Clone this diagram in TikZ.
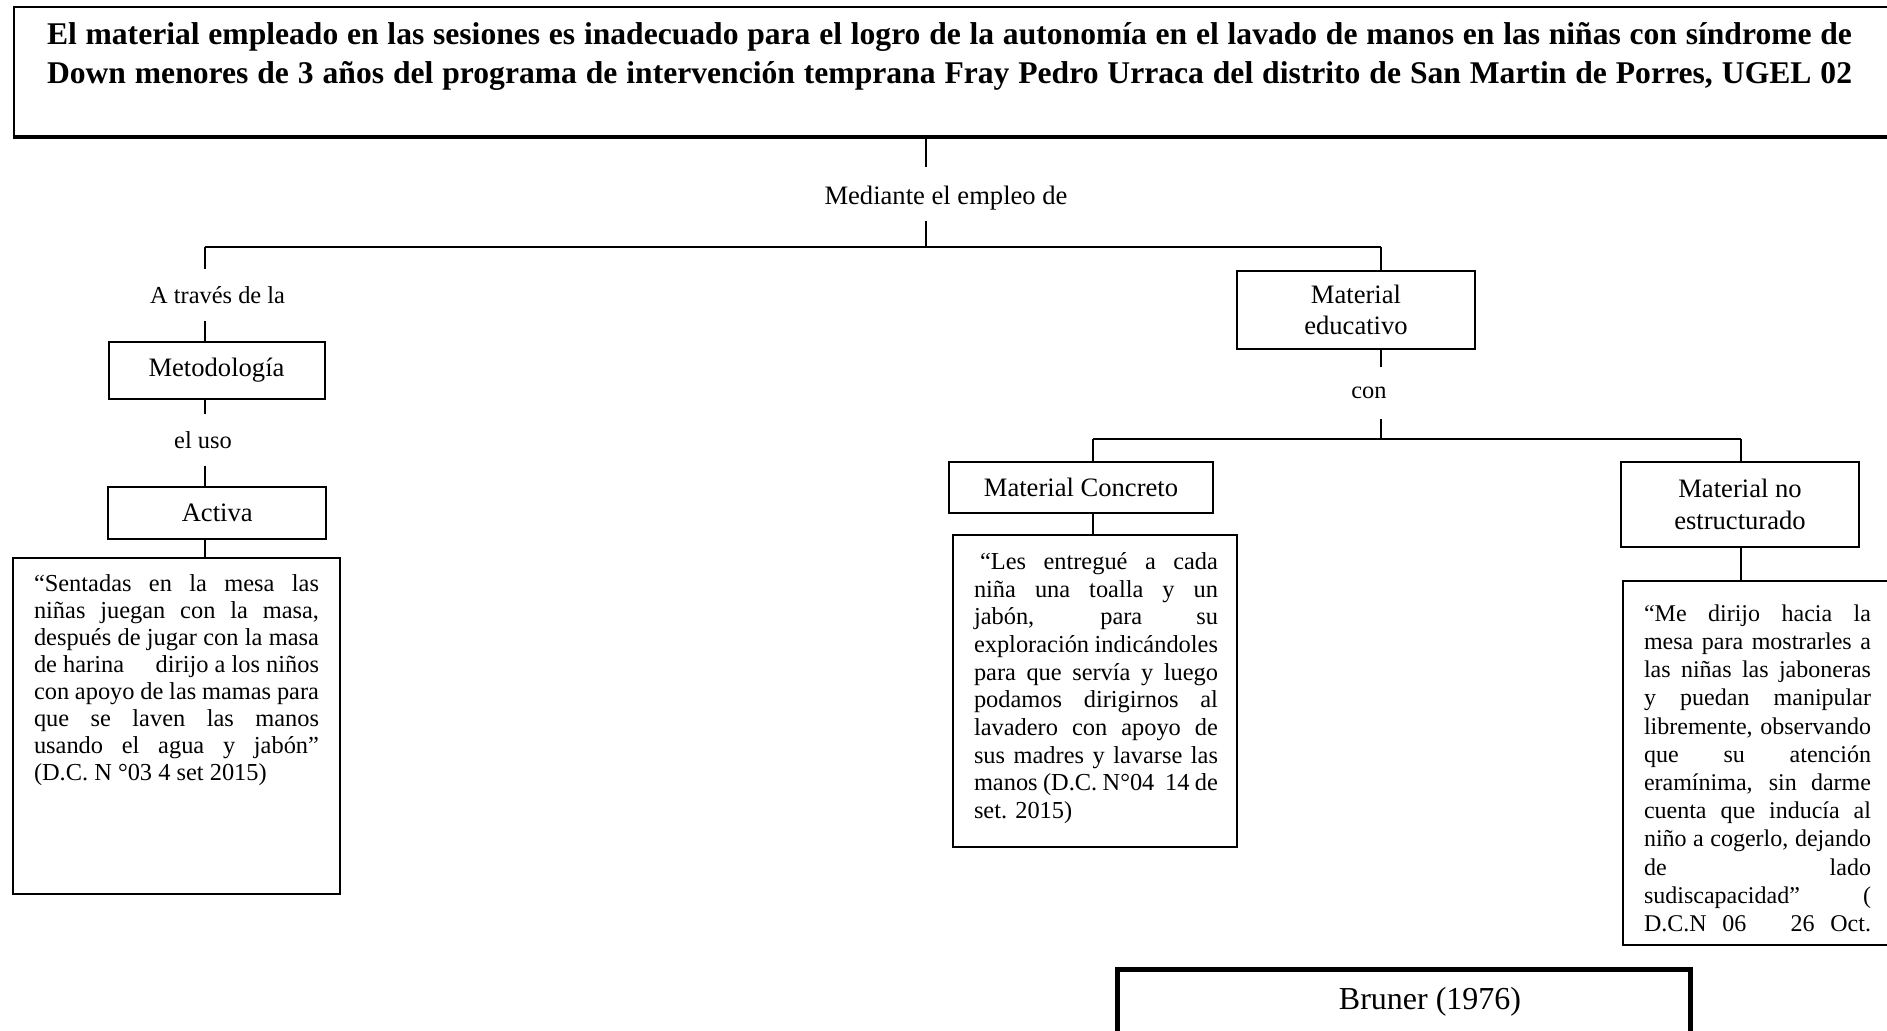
\documentclass[tikz,border=0pt]{standalone}
\usepackage{fontspec}
\setmainfont{Liberation Serif}
\usetikzlibrary{positioning}

\begin{document}
\begin{tikzpicture}[x=1pt,y=-1pt,line width=1pt,
  box/.style={draw,line width=1pt,inner sep=0pt,align=center,font=\fontsize{13.3}{15.8}\selectfont},
  lbl/.style={inner sep=0pt,minimum height=25pt,font=\fontsize{12.2}{14}\selectfont},
  frame/.style={draw,line width=1pt,inner sep=0pt},
  cita/.style={inner sep=0pt,anchor=north west,align=justify,font=\fontsize{12.2}{13.5}\selectfont}]
\useasboundingbox (0,0) rectangle (943.5,515.5);
\clip (0,0) rectangle (943.5,515.5);
\node[frame,line width=1.2pt,minimum width=950pt,minimum height=64.5pt,anchor=north west] (marco) at (6.35,3) {};
\draw[line width=2pt] (marco.south west) -- (marco.south east);
\node[inner sep=0pt,text width=902.5pt,align=justify,font=\fontsize{15.8}{19.5}\selectfont\bfseries] (tema) at (474.75,28.25)
  {\parfillskip=0pt El material empleado en las sesiones es inadecuado para el logro de la autonomía en el lavado de manos en las niñas con síndrome de\linebreak
  Down menores de 3 años del programa de intervención temprana Fray Pedro Urraca del distrito de San Martin de Porres, UGEL 02\par};
\coordinate (eje) at (462.75,123.5);
\coordinate (izq) at (102.25,123.5);
\coordinate (der) at (690.5,123.5);
\node[lbl,font=\fontsize{13.3}{15.8}\selectfont,text height=18.5pt,text depth=7.5pt,anchor=base] (emp) at (473,102.5) {Mediante el empleo de};
\draw (marco.south -| eje) -- (emp.north -| eje);
\draw (emp.south -| eje) -- (eje);
\draw (izq) -- (der);
\node[lbl] (tra) at (108.8,147.5) {A través de la};
\draw (izq) -- (tra.north -| izq);
\node[box,minimum width=108pt,minimum height=28.5pt] (met) at (108.25,185.25) {Metodología};
\draw (tra.south -| izq) -- (met.north -| izq);
\node[lbl] (uso) at (101.5,220) {el uso};
\draw (met.south -| izq) -- (uso.north -| izq);
\node[box,minimum width=108.75pt,minimum height=26pt] (act) at (108.6,256.5) {Activa};
\draw (uso.south -| izq) -- (act.north -| izq);
\node[frame,minimum width=163.65pt,minimum height=168pt] (c1) at (88.2,363) {};
\draw (act.south -| izq) -- (c1.north -| izq);
\node[cita,text width=142.5pt] (t1) at (16.5,286.8)
  {“Sentadas en la mesa las\linebreak
  niñas juegan con la masa,\linebreak
  después de jugar con la masa\linebreak
  de harina \hfill dirijo a los niños\linebreak
  con apoyo de las mamas para\linebreak
  que se laven las manos\linebreak
  usando el agua y jabón”\linebreak
  (D.C. N °03 4 set 2015)};
\node[box,minimum width=119pt,minimum height=39pt] (edu) at (678,155) {Material\\educativo};
\draw (der) -- (edu.north -| der);
\node[lbl] (con) at (684.5,196.5) {con};
\draw (edu.south -| der) -- (con.north -| der);
\coordinate (sub) at (690.5,219.5);
\coordinate (sub1) at (546.5,219.5);
\coordinate (sub2) at (870.5,219.5);
\draw (con.south -| der) -- (sub);
\draw (sub1) -- (sub2);
\node[box,minimum width=132pt,minimum height=25.5pt] (conc) at (540.5,243.75) {Material Concreto};
\draw (sub1) -- (conc.north -| sub1);
\node[frame,minimum width=142pt,minimum height=156pt] (c2) at (547.5,345.5) {};
\draw (conc.south -| sub1) -- (c2.north -| sub1);
\node[cita,text width=122pt,font=\fontsize{12.2}{13.85}\selectfont] (t2) at (486.5,275.7)
  {\hspace{3pt}“Les entregué a cada\linebreak
  niña una toalla y un\linebreak
  jabón, para su\linebreak
  exploración indicándoles\linebreak
  para que servía y luego\linebreak
  podamos dirigirnos al\linebreak
  lavadero con apoyo de\linebreak
  sus madres y lavarse las\linebreak
  manos (D.C. N°04 \ 14 de\linebreak
  set. 2015)};
\node[box,minimum width=119pt,minimum height=42.5pt] (noe) at (870,252.25) {Material no\\estructurado};
\draw (sub2) -- (noe.north -| sub2);
\node[frame,minimum width=142pt,minimum height=182pt,anchor=north west] (c3) at (811,290) {};
\draw (noe.south -| sub2) -- (c3.north -| sub2);
\node[cita,text width=113.5pt,font=\fontsize{12}{14.1}\selectfont] (t3) at (821.5,301.8)
  {\parfillskip=0pt “Me dirijo hacia la\linebreak
  mesa para mostrarles a\linebreak
  las niñas las jaboneras\linebreak
  y puedan manipular\linebreak
  libremente, observando\linebreak
  que su atención\linebreak
  eramínima, sin darme\linebreak
  cuenta que inducía al\linebreak
  niño a cogerlo, dejando\linebreak
  de lado\linebreak
  sudiscapacidad” (\linebreak
  D.C.N \ 06 \hspace{1.2em} 26 \ Oct.\par};
\node[frame,line width=2.6pt,minimum width=286.5pt,minimum height=40pt,anchor=north west] (bru) at (557.5,483.5) {};
\node[lbl,font=\fontsize{16}{18}\selectfont] (brt) at (715,500.8) {Bruner (1976)};
\end{tikzpicture}
\end{document}
